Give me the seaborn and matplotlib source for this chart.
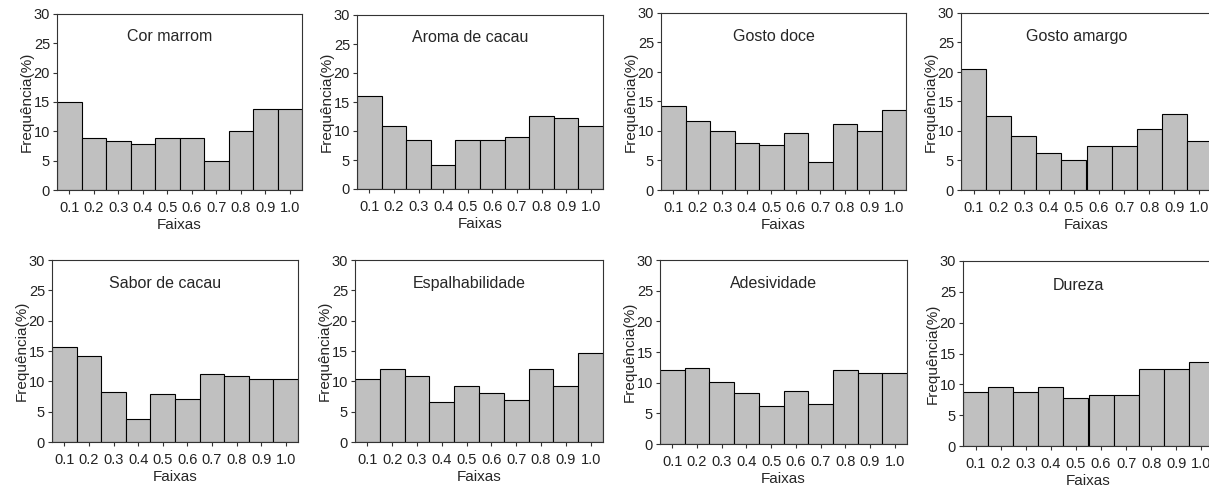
import numpy as np
import matplotlib
matplotlib.use('Agg')
import matplotlib.pyplot as plt
import seaborn as sns

sns.set_style('white')
plt.rcParams['font.family'] = ['Liberation Sans', 'DejaVu Sans']

# Faixas (classes) and frequencies (%)
faixas = ['0.1', '0.2', '0.3', '0.4', '0.5', '0.6', '0.7', '0.8', '0.9', '1.0']

titulos = ['Cor marrom', 'Aroma de cacau', 'Gosto doce', 'Gosto amargo',
           'Sabor de cacau', 'Espalhabilidade', 'Adesividade', 'Dureza']

cor_marrom = [15.0, 8.8, 8.4, 7.9, 8.8, 8.8, 5.0, 10.0, 13.8, 13.8]
aroma_cacau = [16.0, 10.8, 8.4, 4.2, 8.4, 8.4, 8.9, 12.6, 12.2, 10.8]
gosto_doce = [14.3, 11.7, 10.0, 7.9, 7.6, 9.6, 4.7, 11.2, 10.0, 13.5]
gosto_amargo = [20.5, 12.5, 9.2, 6.3, 5.0, 7.5, 7.5, 10.4, 12.9, 8.3]
sabor_cacau = [15.7, 14.1, 8.3, 3.8, 7.9, 7.1, 11.2, 10.8, 10.4, 10.4]
espalhabilidade = [10.4, 12.1, 10.9, 6.6, 9.2, 8.0, 7.0, 12.1, 9.2, 14.6]
adesividade = [12.0, 12.4, 10.1, 8.3, 6.2, 8.7, 6.6, 12.0, 11.5, 11.5]
dureza = [8.7, 9.6, 8.7, 9.6, 7.85, 8.2, 8.2, 12.45, 12.45, 13.6]

series = [cor_marrom, aroma_cacau, gosto_doce, gosto_amargo,
          sabor_cacau, espalhabilidade, adesividade, dureza]

W, H = 1209, 494
fig = plt.figure(figsize=(W / 100, H / 100), dpi=100)

# axes boxes in pixels: (left, right, top, bottom)
boxes = [(57, 302, 14, 190), (357, 603, 15, 189), (661, 906, 13, 190), (961, 1212, 13, 190),
         (52, 298, 260, 442), (355, 603, 260, 442), (660, 907, 260, 444), (963, 1214, 261, 446)]

for (l, r, t, b), titulo, vals in zip(boxes, titulos, series):
    ax = fig.add_axes([l / W, 1 - b / H, (r - l) / W, (b - t) / H])
    sns.barplot(x=faixas, y=vals, color='#c0c0c0', saturation=1, width=1,
                edgecolor='black', linewidth=0.8, ax=ax)
    ax.set_xlim(-0.5, 9.5)
    ax.set_ylim(0, 30)
    ax.set_yticks([0, 5, 10, 15, 20, 25, 30])
    ax.tick_params(axis='both', direction='out', length=3, width=0.8,
                   bottom=True, left=True,
                   labelsize=10.5, color='#333333', labelcolor='#222222', pad=2)
    ax.tick_params(axis='x', pad=5)
    for s in ax.spines.values():
        s.set_visible(True)
        s.set_color('#333333')
        s.set_linewidth(0.8)
    ax.set_xlabel('Faixas', fontsize=11, labelpad=2)
    ax.set_ylabel('Frequência(%)', fontsize=11, labelpad=0)
    ax.text(0.46, 0.87, titulo, transform=ax.transAxes, ha='center', va='center', fontsize=11.5)

fig.savefig('out.png', dpi=100)
